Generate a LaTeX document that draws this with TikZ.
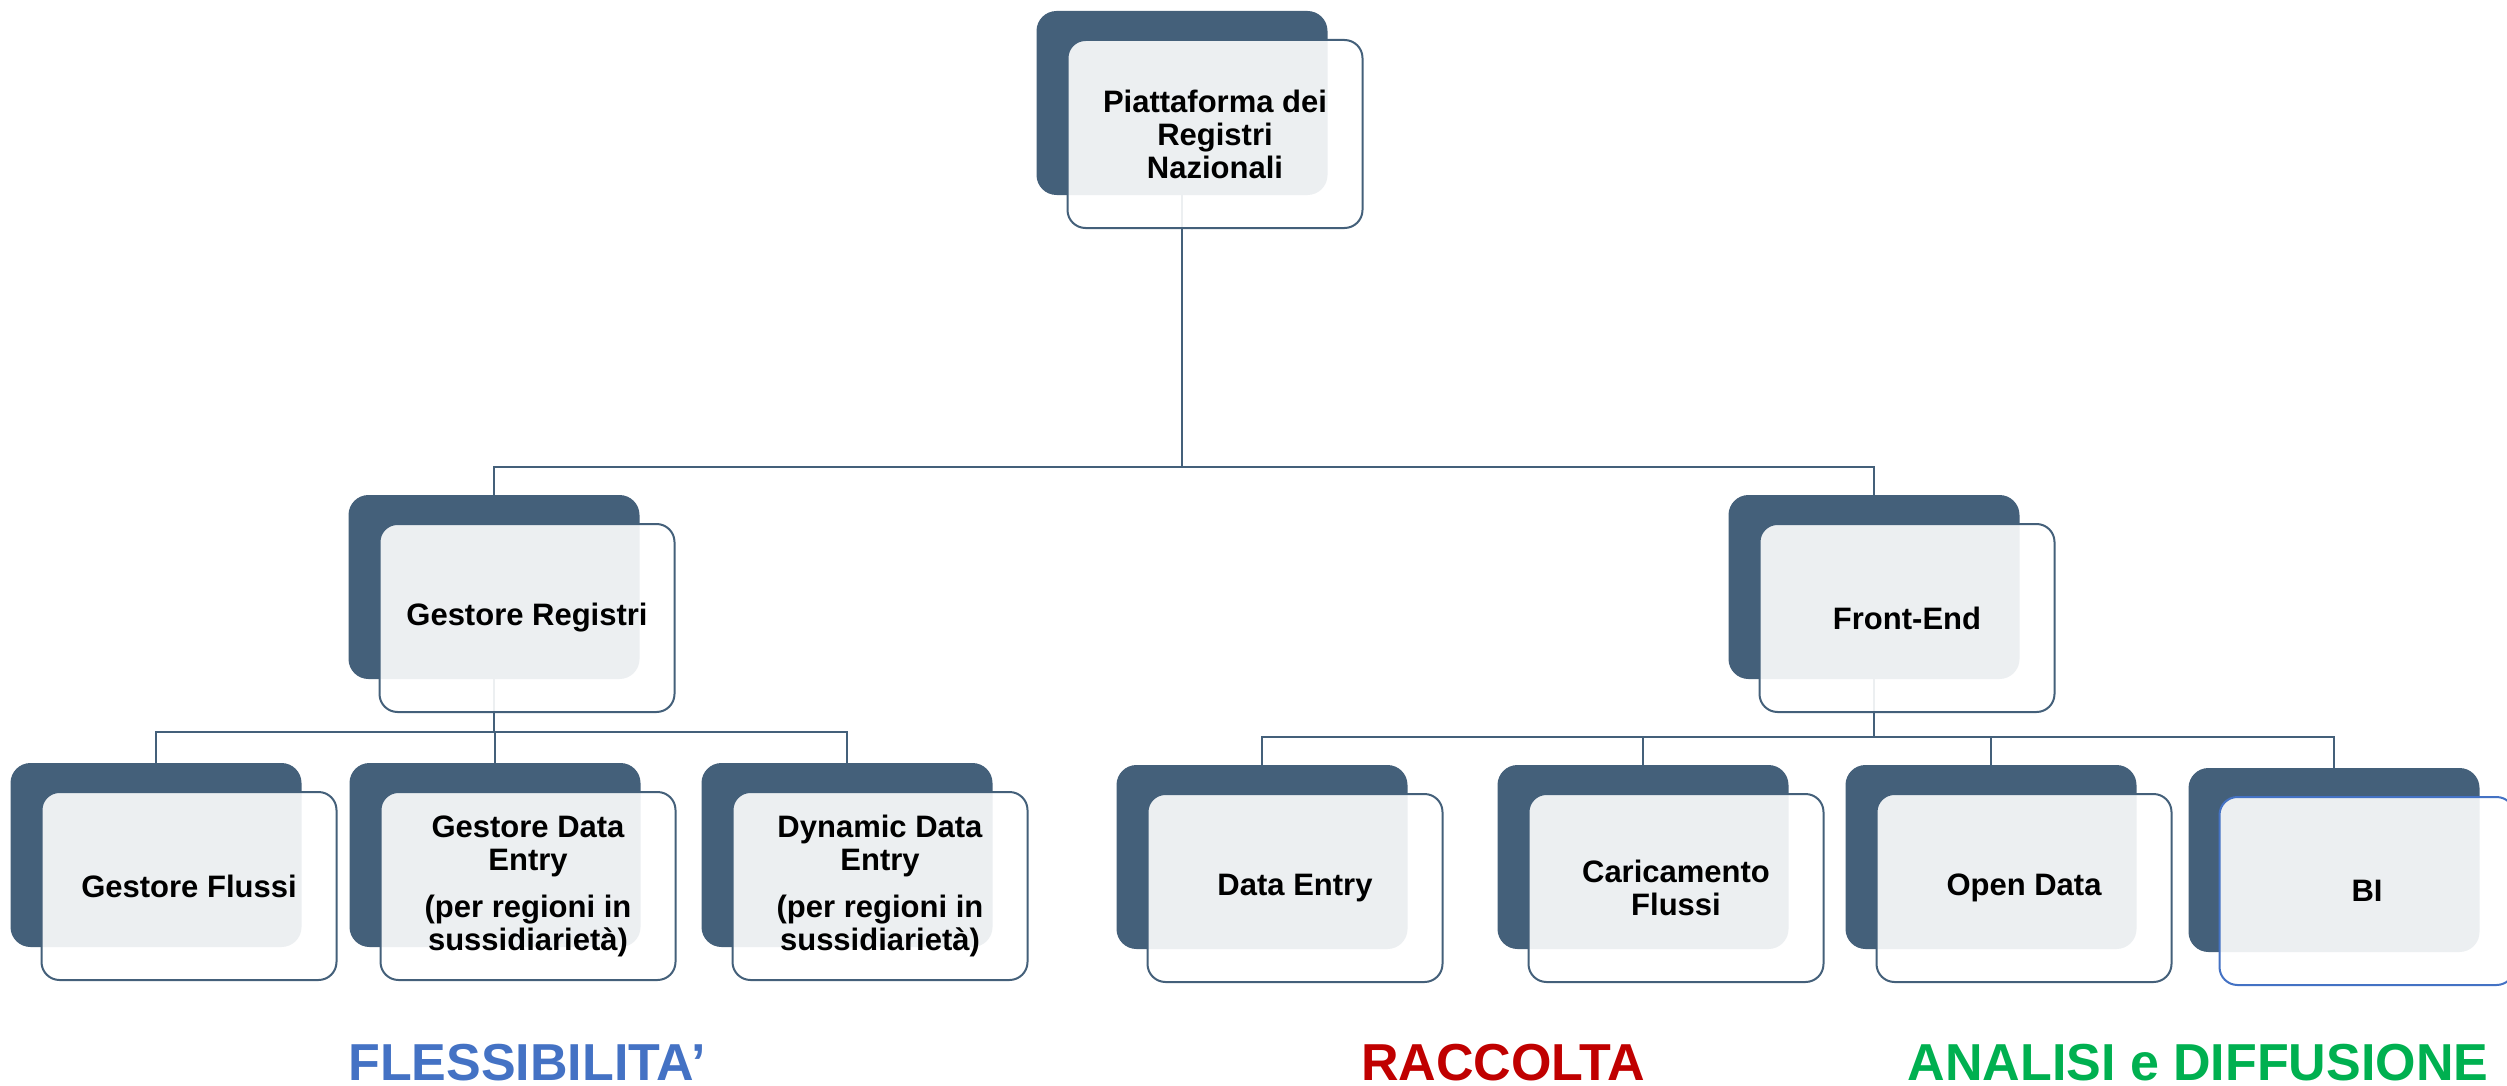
\documentclass[tikz,border=0pt]{standalone}
\usepackage{fontspec}
\setmainfont{Liberation Sans}
\usepackage{tikz}
\usetikzlibrary{positioning}

\definecolor{slate}{HTML}{44607A}
\definecolor{flexblue}{HTML}{4472C4}
\definecolor{collred}{HTML}{C00000}
\definecolor{anagreen}{HTML}{00B050}

\begin{document}
\begin{tikzpicture}[x=0.5pt, y=-0.5pt,
    back/.style={fill=slate, rounded corners=10pt, minimum width=145.5pt, minimum height=92pt, inner sep=0pt},
    front/.style={draw=slate, line width=1pt, fill=white, fill opacity=0.9, text opacity=1,
        rounded corners=9pt, minimum width=147.5pt, minimum height=94pt, inner sep=0pt,
        align=center, font=\fontsize{15.5}{16.5}\selectfont\bfseries},
    link/.style={draw=slate, line width=1pt},
    motto/.style={anchor=base, inner sep=0pt, text depth=0pt, font=\fontsize{26}{26}\selectfont\bfseries}]
    \useasboundingbox (0,0) rectangle (2507,1086);

    \coordinate (bus0) at (0,467);
    \coordinate (busl) at (0,732);
    \coordinate (busr) at (0,737);

    \path (1182,103) coordinate (ptop)
          (494,587) coordinate (preg)
          (1874,587) coordinate (pfe)
          (156,855) coordinate (pgf)
          (495,855) coordinate (pgde)
          (847,855) coordinate (pdde)
          (1262,857) coordinate (pde)
          (1643,857) coordinate (pcf)
          (1991,857) coordinate (pod)
          (2334,860) coordinate (pbi);

    \node[back] (top) at (ptop) {};
    \node[back] (reg) at (preg) {};
    \node[back] (fe) at (pfe) {};
    \node[back] (gf) at (pgf) {};
    \node[back] (gde) at (pgde) {};
    \node[back] (dde) at (pdde) {};
    \node[back] (de) at (pde) {};
    \node[back] (cf) at (pcf) {};
    \node[back] (od) at (pod) {};
    \node[back] (bi) at (pbi) {};

    \path[link]
    (top.south) edge[to path={|- (\tikztotarget |- bus0) -- (\tikztotarget)}] (reg.north)
    (top.south) edge[to path={|- (\tikztotarget |- bus0) -- (\tikztotarget)}] (fe.north)
    (reg.south) edge[to path={|- (\tikztotarget |- busl) -- (\tikztotarget)}] (gf.north)
    (reg.south) edge[to path={|- (\tikztotarget |- busl) -- (\tikztotarget)}] (gde.north)
    (reg.south) edge[to path={|- (\tikztotarget |- busl) -- (\tikztotarget)}] (dde.north)
    (fe.south) edge[to path={|- (\tikztotarget |- busr) -- (\tikztotarget)}] (de.north)
    (fe.south) edge[to path={|- (\tikztotarget |- busr) -- (\tikztotarget)}] (cf.north)
    (fe.south) edge[to path={|- (\tikztotarget |- busr) -- (\tikztotarget)}] (od.north)
    (fe.south) edge[to path={|- (\tikztotarget |- busr) -- (\tikztotarget)}] (bi.north);

    \node[front] (top-t) at ([shift={(33,31)}]top.center) {Piattaforma dei\\Registri\\Nazionali};
    \node[front] (reg-t) at ([shift={(33,31)}]reg.center) {Gestore Registri};
    \node[front] (fe-t) at ([shift={(33,31)}]fe.center) {Front-End};
    \node[front] (gf-t) at ([shift={(33,31)}]gf.center) {Gestore Flussi};
    \node[front] (gde-t) at ([shift={(33,31)}]gde.center) {Gestore Data\\Entry\\[7pt](per regioni in\\sussidiarietà)};
    \node[front] (dde-t) at ([shift={(33,31)}]dde.center) {Dynamic Data\\Entry\\[7pt](per regioni in\\sussidiarietà)};
    \node[front] (de-t) at ([shift={(33,31)}]de.center) {Data Entry};
    \node[front] (cf-t) at ([shift={(33,31)}]cf.center) {Caricamento\\Flussi};
    \node[front] (od-t) at ([shift={(33,31)}]od.center) {Open Data};
    \node[front, draw=flexblue] (bi-t) at ([shift={(33,31)}]bi.center) {BI};

    \node[motto, text=flexblue] (flex) at (527,1080) {FLESSIBILITA’};
    \node[motto, text=collred] (racc) at (1503,1080) {RACCOLTA};
    \node[motto, text=anagreen] (anal) at (2198,1080) {ANALISI e DIFFUSIONE};
\end{tikzpicture}
\end{document}
